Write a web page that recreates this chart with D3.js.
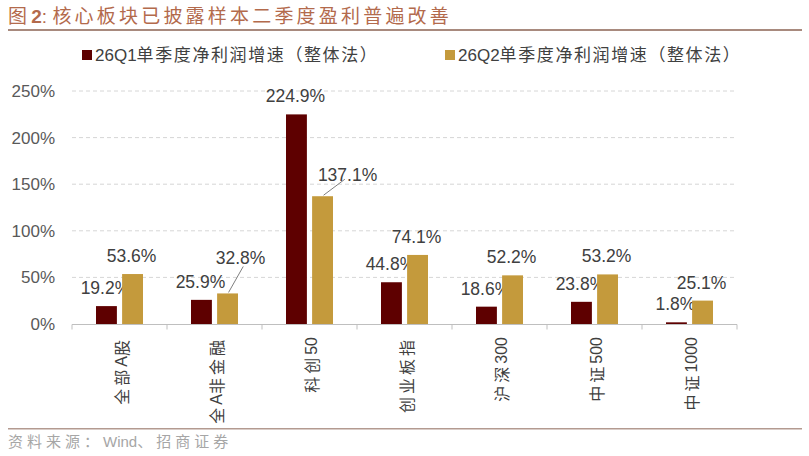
<!DOCTYPE html>
<html><head><meta charset="utf-8">
<script src="https://cdn.jsdelivr.net/npm/d3@7/dist/d3.min.js"></script>
<style>
html,body{margin:0;padding:0;background:#fff;}
svg{display:block;font-family:"Liberation Sans","Noto Sans CJK SC",sans-serif;}
</style></head>
<body>
<svg id="c" width="809" height="456"></svg>
<script>
const categories = ["全部A股","全A非金融","科创50","创业板指","沪深300","中证500","中证1000"];
const seriesNames = ["26Q1单季度净利润增速（整体法）","26Q2单季度净利润增速（整体法）"];
const q1Values = [19.2, 25.9, 224.9, 44.8, 18.6, 23.8, 1.8];
const q2Values = [53.6, 32.8, 137.1, 74.1, 52.2, 53.2, 25.1];
const yTicks = [0, 50, 100, 150, 200, 250];
const titleText = "核心板块已披露样本二季度盈利普遍改善";
const sourceText = "资料来源：Wind、招商证券";

// label layout tweaks (pixels) for labels that use leader lines
const q2LabelShift = [[0,0],[14,-17],[26,-3],[0,0],[0,0],[0,0],[0,0]];

const colors = ["#5E0000", "#C49A3C"];
const svg = d3.select("#c");

// write text with letter-spacing only on CJK runs
function mixed(sel, str, sp) {
  const runs = str.match(/[\u3000-\u9fff\uff00-\uffef]+|[^\u3000-\u9fff\uff00-\uffef]+/g);
  runs.forEach(r => {
    const cjk = /[\u3000-\u9fff\uff00-\uffef]/.test(r);
    sel.append("tspan").text(r)
      .attr("font-family", cjk ? "Noto Sans CJK SC" : "Liberation Sans")
      .attr("letter-spacing", cjk ? sp : 0);
  });
}

// title
const t = svg.append("text").attr("x", 8).attr("y", 23)
  .attr("font-size", 19).attr("fill", "#B36A4C");
t.append("tspan").text("图 ").attr("font-family","Noto Sans CJK SC");
t.append("tspan").text("2").attr("font-weight","bold");
t.append("tspan").text(":  ");
t.append("tspan").text(titleText).attr("font-family","Noto Sans CJK SC").attr("letter-spacing", 3.2);
svg.append("rect").attr("x", 8).attr("y", 29).attr("width", 794).attr("height", 2).attr("fill", "#A88A7E");

// footer
svg.append("rect").attr("x", 8).attr("y", 428).attr("width", 794).attr("height", 1.5).attr("fill", "#B39A90");
const ft = svg.append("text").attr("x", 8).attr("y", 447).attr("font-size", 15).attr("fill", "#A6A6A6");
mixed(ft, sourceText, 4);

// legend
const legendX = [82, 445];
seriesNames.forEach((n, i) => {
  svg.append("rect").attr("x", legendX[i]).attr("y", 50).attr("width", 10).attr("height", 10).attr("fill", colors[i]);
  const lt = svg.append("text").attr("x", legendX[i] + 13).attr("y", 61).attr("font-size", 17).attr("fill", "#404040");
  mixed(lt, n, 1.6);
});

// scales
const x = d3.scaleBand().domain(categories).range([72, 737]);
const x1 = d3.scaleBand().domain([0, 1]).range([24, 71]).paddingInner(0.2);
const y = d3.scaleLinear().domain([0, 250]).range([324, 91]);

// gridlines
svg.append("g").selectAll("line").data(yTicks.filter(d => d > 0)).join("line")
  .attr("x1", 72).attr("x2", 737).attr("y1", d => y(d)).attr("y2", d => y(d))
  .attr("stroke", "#D6D6D6").attr("stroke-dasharray", "4,3");

// y tick labels
svg.append("g").selectAll("text").data(yTicks).join("text")
  .attr("x", 55).attr("y", d => y(d) + 6).attr("text-anchor", "end")
  .attr("font-size", 17).attr("fill", "#595959").text(d => d + "%");

// x axis
const xAxis = d3.axisBottom(x).tickSize(5).tickFormat("");
const gx = svg.append("g").attr("transform", "translate(0,324.5)").call(xAxis);
gx.select(".domain").attr("stroke", "#BFBFBF").attr("d", "M72,0H737");
gx.selectAll(".tick").remove();
const bounds = categories.map(c => x(c)).concat([737]);
gx.selectAll("line.tk").data(bounds).join("line").attr("class","tk")
  .attr("x1", d => d).attr("x2", d => d).attr("y1", 0).attr("y2", 5).attr("stroke", "#BFBFBF");

// x labels
svg.append("g").selectAll("text").data(categories).join("text")
  .attr("transform", d => `translate(${x(d) + x.bandwidth()/2 + 1.5},337) rotate(-90)`)
  .attr("text-anchor", "end").attr("dominant-baseline", "central")
  .attr("font-size", 16).attr("fill", "#404040")
  .each(function(d) { mixed(d3.select(this), d, 3); });

// bars
const seriesVals = [q1Values, q2Values];
seriesVals.forEach((vals, si) => {
  const g = svg.append("g");
  g.selectAll("rect").data(vals).join("rect")
    .attr("x", (d, i) => x(categories[i]) + x1(si))
    .attr("width", x1.bandwidth())
    .attr("y", d => y(d)).attr("height", d => y(0) - y(d))
    .attr("fill", colors[si]);
  g.selectAll("text").data(vals).join("text")
    .attr("x", (d, i) => x(categories[i]) + x1(si) + x1.bandwidth()/2 - 1 + (si ? q2LabelShift[i][0] : 0))
    .attr("y", (d, i) => y(d) - 12 + (si ? q2LabelShift[i][1] : 0))
    .attr("text-anchor", "middle").attr("font-size", 17.5).attr("fill", "#404040")
    .text(d => d.toFixed(1) + "%");
  if (si === 1) {
    g.selectAll("line").data(vals.map((d, i) => [d, i]).filter(p => q2LabelShift[p[1]][0] !== 0)).join("line")
      .attr("x1", p => x(categories[p[1]]) + x1(1) + x1.bandwidth()/2 + 1)
      .attr("y1", p => y(p[0]) - 1)
      .attr("x2", p => x(categories[p[1]]) + x1(1) + x1.bandwidth()/2 + q2LabelShift[p[1]][0] * 0.55 + 8)
      .attr("y2", p => y(p[0]) - 12 + q2LabelShift[p[1]][1] + 2 - (p[1] === 2 ? 4 : 0))
      .attr("stroke", "#7F7F7F").attr("stroke-width", 1);
  }
});
</script>
</body></html>
